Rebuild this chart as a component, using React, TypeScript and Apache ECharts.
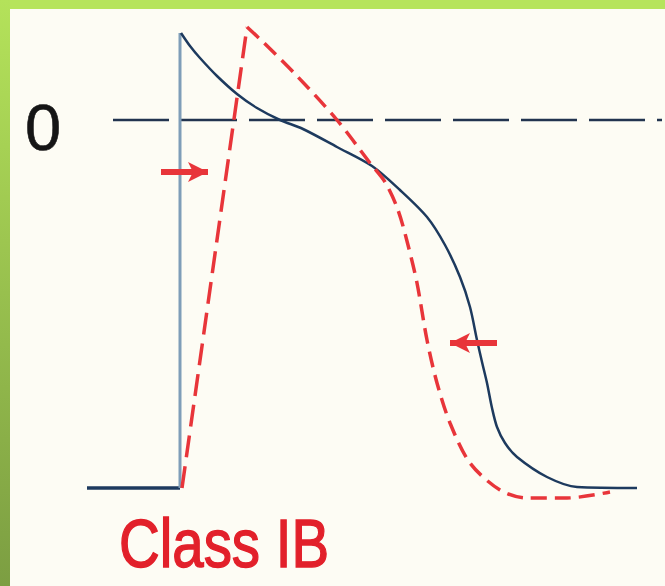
import React, { useEffect, useRef } from "react";
import * as echarts from "echarts";

// time in ms-like units (0 = upstroke), membrane potential in mV-like units
const controlBaseline: number[][] = [[-93, -92], [0, -92]];
const controlUpstroke: number[][] = [[0, -92], [0, 21.75]];
const controlRepol: number[][] = [
  [1, 21.75], [10, 18.5], [20, 15.5], [37, 11], [57, 6.5], [77, 3], [100, 0],
  [123, -2.25], [157, -6.75], [192, -11.5], [220, -17.5], [247, -24.25], [265, -31.25],
  [280, -39.25], [290, -46.75], [297, -55], [302, -60.5], [307, -65.75], [312, -72],
  [317, -76.75], [325, -80.75], [337, -84.25], [367, -89.25], [397, -91.75], [457, -92],
];
const drugUpstroke: number[][] = [[2, -92], [67, 23.25]];
const drugRepol: number[][] = [
  [67, 23.25], [83, 19.5], [117, 11], [157, 0], [190, -10.75], [205, -15.5],
  [218, -22.5], [228, -31.25], [237, -40.75], [247, -55], [257, -65.75],
  [270, -75.75], [290, -85.75], [320, -92.5], [347, -94.5], [387, -94.5], [430, -93],
];
const zeroLine: number[][] = [[-67, 0], [482, 0]];
const arrowOnset: number[][] = [[-19, -13], [28, -13]];
const arrowDuration: number[][] = [[317, -55.75], [270, -55.75]];
const zeroLabel = "0";
const titleLabel = "Class IB";

const BLUE = "#1d3a5e";
const BLUE_LIGHT = "#7f9db8";
const RED = "#e8353a";

export default function App() {
  const ref = useRef<HTMLDivElement>(null);
  useEffect(() => {
    if (!ref.current) return;
    const chart = echarts.init(ref.current, undefined, { renderer: "svg" });
    const arrow = (pts: number[][]) => ({
      type: "line",
      data: [],
      silent: true,
      markLine: {
        silent: true,
        animation: false,
        symbol: ["none", "arrow"],
        symbolSize: [15, 20],
        label: { show: false },
        lineStyle: { color: RED, width: 6, type: "solid" },
        emphasis: { disabled: true },
        data: [[{ coord: pts[0] }, { coord: pts[1] }]],
      },
    });
    chart.setOption({
      animation: false,
      backgroundColor: "#fdfcf4",
      grid: { left: 0, right: 0, top: 0, bottom: 0 },
      xAxis: { type: "value", min: -180, max: 485, show: false },
      yAxis: { type: "value", min: -116.5, max: 30, show: false },
      graphic: [
        {
          type: "rect",
          shape: { x: 0, y: 0, width: 665, height: 9 },
          style: { fill: "#b6e45c" },
          z: 10,
        },
        {
          type: "rect",
          shape: { x: 0, y: 0, width: 10, height: 586 },
          style: {
            fill: new echarts.graphic.LinearGradient(0, 0, 0, 1, [
              { offset: 0, color: "#b4e25a" },
              { offset: 1, color: "#7c9e42" },
            ]),
          },
          z: 10,
        },
        {
          type: "text",
          x: 25,
          y: 127,
          style: {
            text: zeroLabel,
            font: "65px 'Liberation Sans', Arial, sans-serif",
            fill: "#151515",
            stroke: "#151515",
            lineWidth: 0.6,
            align: "left",
            verticalAlign: "middle",
          },
          z: 10,
        },
        {
          type: "text",
          x: 119,
          y: 543,
          scaleX: 0.83,
          style: {
            text: titleLabel,
            font: "68px 'Liberation Sans', Arial, sans-serif",
            fill: "#e2202a",
            stroke: "#e2202a",
            lineWidth: 1.4,
            align: "left",
            verticalAlign: "middle",
          },
          z: 10,
        },
      ],
      series: [
        {
          type: "line",
          data: zeroLine,
          symbol: "none",
          silent: true,
          lineStyle: { color: "#22344f", width: 2.5, type: [56, 12] },
        },
        {
          type: "line",
          data: controlBaseline,
          symbol: "none",
          silent: true,
          lineStyle: { color: BLUE, width: 3.5 },
        },
        {
          type: "line",
          data: controlUpstroke,
          symbol: "none",
          silent: true,
          lineStyle: { color: BLUE_LIGHT, width: 3 },
        },
        {
          type: "line",
          data: controlRepol,
          symbol: "none",
          smooth: 0.3,
          silent: true,
          lineStyle: { color: BLUE, width: 2.5 },
        },
        {
          type: "line",
          data: drugUpstroke,
          symbol: "none",
          silent: true,
          lineStyle: { color: RED, width: 3.5, type: [22, 9] },
        },
        {
          type: "line",
          data: drugRepol,
          symbol: "none",
          smooth: 0.3,
          silent: true,
          lineStyle: { color: RED, width: 3.5, type: [16, 8] },
        },
        arrow(arrowOnset),
        arrow(arrowDuration),
      ],
    });
    return () => chart.dispose();
  }, []);
  return (
    <div
      ref={ref}
      style={{ position: "fixed", left: 0, top: 0, width: 665, height: 586 }}
    />
  );
}
